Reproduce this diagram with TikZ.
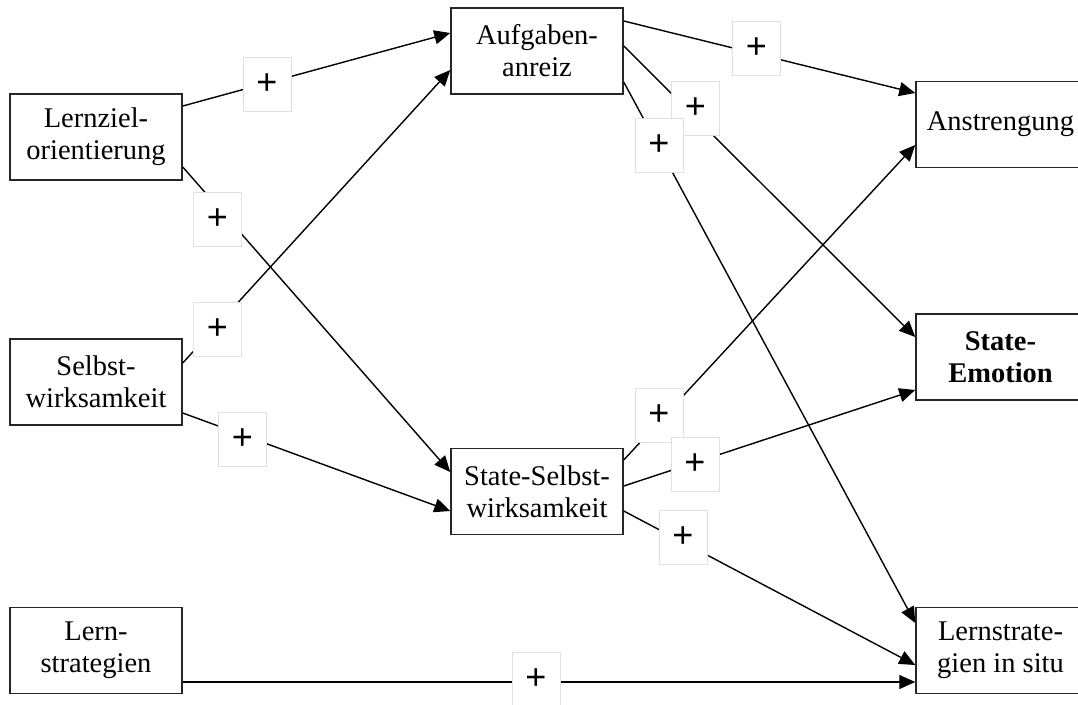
\documentclass[tikz,border=0pt]{standalone}
\usepackage{fontspec}
\setmainfont{Liberation Serif}
\newfontfamily\plusfont{Liberation Sans}
\usetikzlibrary{arrows.meta}

\begin{document}
\begin{tikzpicture}[x=1pt,y=-1pt,
  box/.style={draw=black!85, line width=1.5pt, fill=white, minimum width=172pt,
    minimum height=86pt, inner sep=0pt, align=center,
    font=\fontsize{28.5}{32}\selectfont},
  rbox/.style={box, minimum width=169pt},
  link/.style={line width=1.4pt, -{Triangle[length=16pt,width=14pt]}},
  plus/.style={draw=black!12, line width=1pt, fill=white, minimum width=48pt,
    minimum height=54pt, inner sep=0pt, font=\plusfont\fontsize{36}{36}\selectfont}]
\useasboundingbox (0,0) rectangle (1078,704);
\clip (0,0) rectangle (1078,704);

% variables
\node[box] (L1) at (96,137) {Lernziel-\\orientierung};
\node[box] (L2) at (96,382) {Selbst-\\wirksamkeit};
\node[box] (L3) at (96,650.5) {Lern-\\strategien};
\node[box] (A) at (537,51) {Aufgaben-\\anreiz};
\node[box] (S) at (537,491.5) {State-Selbst-\\wirksamkeit};
\node[rbox] (An) at (1000.5,124.5) {Anstrengung};
\node[rbox] (E) at (1000.5,357) {\bfseries State-\\\bfseries Emotion};
\node[rbox] (Si) at (1000.5,650.5) {Lernstrate-\\gien in situ};

% paths
\draw[link] ([yshift=31pt]L1.east) -- ([yshift=18pt]A.west);
\draw[link] ([yshift=19pt]L2.east) -- ([yshift=-19pt]A.west);
\draw[link] ([yshift=-30pt]L1.east) -- ([yshift=19.5pt]S.west);
\draw[link] ([yshift=-31pt]L2.east) -- ([yshift=-19.5pt]S.west);
\draw[link] ([yshift=30pt]A.east) -- ([yshift=31.5pt]An.west);
\draw[link] ([yshift=5pt]A.east) -- ([yshift=20pt]E.west);
\draw[link] ([yshift=-31pt]A.east) -- ([yshift=27.5pt]Si.west);
\draw[link] ([yshift=31.5pt]S.east) -- ([yshift=-20.5pt]An.west);
\draw[link] ([yshift=5.5pt]S.east) -- ([yshift=-33pt]E.west);
\draw[link] ([yshift=-19.5pt]S.east) -- ([yshift=-14.5pt]Si.west);
\draw[link] ([yshift=-31.5pt]L3.east) -- ([yshift=-31.5pt]Si.west);

% signs of the effects
\node[plus] (p1) at (267,84) {+};
\node[plus] (p3) at (217.5,219) {+};
\node[plus] (p2) at (217.5,329) {+};
\node[plus] (p4) at (242.5,439) {+};
\node[plus] (p5) at (756.5,48) {+};
\node[plus] (p6) at (695.5,108.5) {+};
\node[plus] (p7) at (659,145.5) {+};
\node[plus] (p8) at (659,415) {+};
\node[plus] (p9) at (695,464) {+};
\node[plus] (p10) at (683,537.5) {+};
\node[plus] (p11) at (536,679) {+};
\end{tikzpicture}
\end{document}
